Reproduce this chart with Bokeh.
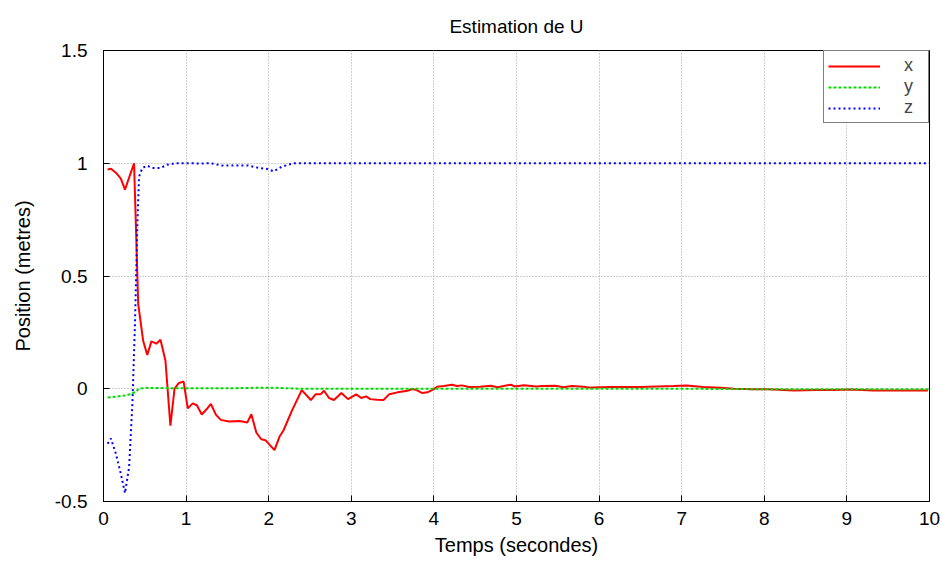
from bokeh.plotting import figure
from bokeh.models import FixedTicker, Legend, LegendItem
from bokeh.embed import file_html
from bokeh.resources import INLINE

# --- data ---
t_x = [0.05, 0.09, 0.15, 0.21, 0.26, 0.37, 0.42, 0.48, 0.53, 0.58,
       0.64, 0.69, 0.75, 0.81, 0.86, 0.91, 0.97, 1.02, 1.08, 1.13,
       1.19, 1.25, 1.30, 1.36, 1.42, 1.52, 1.65, 1.74, 1.79, 1.85,
       1.91, 1.96, 2.07, 2.13, 2.18, 2.28, 2.40, 2.51, 2.57, 2.63,
       2.67, 2.73, 2.79, 2.88, 2.96, 3.06, 3.12, 3.18, 3.23, 3.31,
       3.39, 3.46, 3.56, 3.68, 3.74, 3.79, 3.86, 3.92, 3.99, 4.04,
       4.12, 4.22, 4.28, 4.34, 4.42, 4.56, 4.69, 4.77, 4.93, 4.98,
       5.09, 5.24, 5.31, 5.47, 5.57, 5.67, 5.81, 5.90, 6.14, 6.50,
       6.90, 7.06, 7.26, 7.47, 7.63, 7.87, 8.04, 8.36, 8.64, 8.84,
       9.04, 9.32, 9.60, 9.98]
x_vals = [0.972, 0.976, 0.958, 0.932, 0.883, 1.0, 0.376, 0.213, 0.15, 0.21,
          0.20, 0.217, 0.124, -0.164, 0.0, 0.025, 0.032, -0.087, -0.065, -0.073,
          -0.114, -0.09, -0.067, -0.115, -0.138, -0.145, -0.143, -0.15, -0.113, -0.194,
          -0.224, -0.228, -0.272, -0.213, -0.184, -0.098, -0.006, -0.05, -0.024, -0.024,
          -0.009, -0.041, -0.05, -0.019, -0.046, -0.025, -0.041, -0.034, -0.046, -0.049,
          -0.05, -0.024, -0.016, -0.009, -0.001, -0.006, -0.019, -0.016, -0.004, 0.009,
          0.012, 0.018, 0.012, 0.015, 0.008, 0.009, 0.013, 0.007, 0.018, 0.01,
          0.016, 0.01, 0.012, 0.013, 0.007, 0.012, 0.009, 0.005, 0.008, 0.008,
          0.012, 0.014, 0.008, 0.004, 0.0, -0.002, -0.002, -0.008, -0.005, -0.005,
          -0.003, -0.008, -0.008, -0.008]

t_y = [0.05, 0.15, 0.26, 0.30, 0.39, 0.43, 0.51, 1.0, 1.5, 1.8,
       2.1, 2.4, 3.0, 5.0, 7.0, 8.0, 9.0, 10.0]
y_vals = [-0.039, -0.035, -0.03, -0.027, -0.014, 0.0, 0.004, 0.002, 0.002, 0.004,
          0.004, 0.0, 0.0, 0.0, 0.0, -0.002, -0.002, -0.002]

t_z = [0.05, 0.09, 0.15, 0.21, 0.26, 0.31, 0.35, 0.38, 0.41, 0.43,
       0.47, 0.53, 0.59, 0.69, 0.77, 0.87, 1.0, 1.2, 1.3, 1.43,
       1.6, 1.75, 1.88, 1.98, 2.06, 2.16, 2.3, 3.0, 5.0, 7.0, 10.0]
z_vals = [-0.244, -0.221, -0.288, -0.377, -0.463, -0.347, -0.066, 0.275, 0.73, 0.94,
          0.979, 0.989, 0.979, 0.979, 0.993, 1.0, 1.0, 0.999, 1.0, 0.99,
          0.99, 0.99, 0.979, 0.975, 0.964, 0.985, 1.0, 1.0, 1.0, 1.0, 1.0]

x_ticks = [0, 1, 2, 3, 4, 5, 6, 7, 8, 9, 10]
x_tick_labels = ["0", "1", "2", "3", "4", "5", "6", "7", "8", "9", "10"]
y_ticks = [-0.5, 0, 0.5, 1, 1.5]
y_tick_labels = ["-0.5", "0", "0.5", "1", "1.5"]

series_names = ["x", "y", "z"]

FONT = "Liberation Sans"

p = figure(width=942, height=563, x_range=(0, 10), y_range=(-0.5, 1.5),
           output_backend="svg", toolbar_location=None,
           min_border_left=103, min_border_right=13,
           min_border_top=50, min_border_bottom=62,
           title="Estimation de U")

p.title.align = "center"
p.title.text_font = FONT
p.title.text_font_size = "19px"
p.title.text_font_style = "normal"
p.title.text_color = "black"
p.title.standoff = 27

p.outline_line_color = "black"
p.outline_line_width = 1
p.background_fill_color = "white"
p.border_fill_color = "white"

xa = p.below[0]
ya = p.left[0]
for ax in (xa, ya):
    ax.major_label_text_font = FONT
    ax.major_label_text_font_size = "19px"
    ax.axis_label_text_font = FONT
    ax.axis_label_text_font_size = "20px"
    ax.axis_label_text_font_style = "normal"
    ax.major_tick_in = 6
    ax.major_tick_out = 0
    ax.minor_tick_line_color = None
    ax.axis_line_color = "black"
    ax.major_tick_line_color = "black"
    ax.major_label_text_color = "black"
    ax.axis_label_text_color = "black"

xa.ticker = FixedTicker(ticks=x_ticks)
xa.major_label_overrides = dict(zip(x_ticks, x_tick_labels))
ya.ticker = FixedTicker(ticks=y_ticks)
ya.major_label_overrides = dict(zip(y_ticks, y_tick_labels))

xa.axis_label = "Temps (secondes)"
ya.axis_label = "Position (metres)"
xa.major_label_standoff = 10
ya.major_label_standoff = 16
xa.axis_label_standoff = 6
ya.axis_label_standoff = 18

for g in (p.xgrid[0], p.ygrid[0]):
    g.grid_line_color = "#a0a0a0"
    g.grid_line_dash = "1 2"
    g.grid_line_width = 1

rx = p.line(t_x, x_vals, line_color="#ff0000", line_width=2)
ry = p.line(t_y, y_vals, line_color="#00dd00", line_width=2, line_dash="3 2")
rz = p.line(t_z, z_vals, line_color="#0000ff", line_width=2, line_dash="2 3")

legend = Legend(items=[LegendItem(label=series_names[0], renderers=[rx]),
                       LegendItem(label=series_names[1], renderers=[ry]),
                       LegendItem(label=series_names[2], renderers=[rz])],
                location="top_right", margin=0, padding=4, spacing=0,
                glyph_width=52, glyph_height=18, label_standoff=24,
                label_text_font=FONT, label_text_font_size="18px",
                label_height=18,
                border_line_color="black", border_line_width=1,
                background_fill_color="white", background_fill_alpha=1.0)
p.add_layout(legend)

open("out.html", "w").write(file_html(p, INLINE))
